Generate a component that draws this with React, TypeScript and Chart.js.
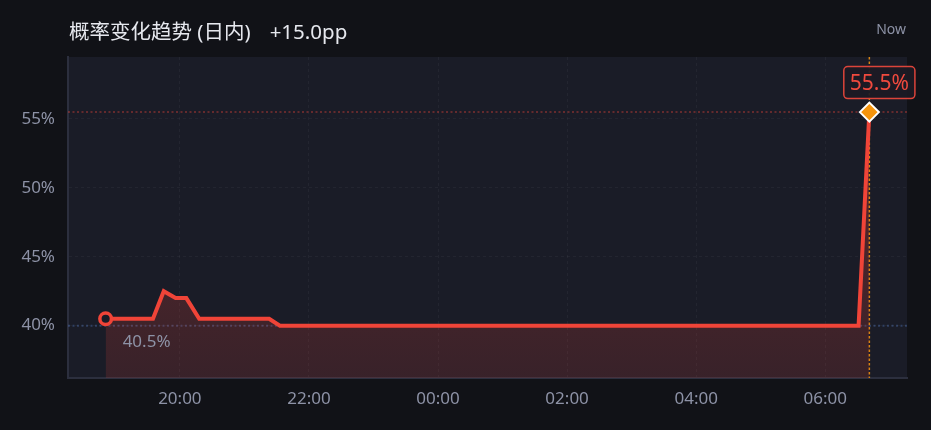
import React, { useEffect, useRef } from 'react';
import { Chart, registerables } from 'chart.js';

Chart.register(...registerables);

// ---- data ----
const TITLE = '概率变化趋势 (日内)';
const NOW_LABEL = 'Now';
const times = ['18:51', '19:35', '19:45', '19:56', '20:06', '20:18', '21:23', '21:33', '06:31', '06:41'];
const probs = [40.5, 40.5, 42.5, 42.0, 42.0, 40.5, 40.5, 40.0, 40.0, 55.5];
const xTickTimes = ['20:00', '22:00', '00:00', '02:00', '04:00', '06:00'];
const yTicks = [40, 45, 50, 55];
const xRange = ['18:16', '07:16'];
const yRange = [36.2, 59.5];
const baselineValue = 40;

// ---- helpers ----
function toHours(t: string): number {
  const [h, m] = t.split(':').map(Number);
  const v = h + m / 60;
  return v < 12 ? v + 24 : v;
}
function fmtHours(v: number): string {
  const base = Math.floor(v + 1e-6);
  const h = base % 24;
  const m = Math.round((v - base) * 60);
  return `${String(h).padStart(2, '0')}:${String(m).padStart(2, '0')}`;
}

const FONT = '"Noto Sans", "Noto Sans CJK SC", sans-serif';
const BG_PAGE = '#111217';
const BG_AREA = '#1a1c27';
const RED = '#f04438';
const TEXT_GREY = '#8d92a6';

const decorPlugin = {
  id: 'decor',
  beforeDraw(chart: any) {
    const { ctx, chartArea: a, width, height } = chart;
    ctx.save();
    ctx.fillStyle = BG_PAGE;
    ctx.fillRect(0, 0, width, height);
    ctx.fillStyle = BG_AREA;
    ctx.fillRect(a.left, a.top, a.right - a.left, a.bottom - a.top);
    ctx.restore();
  },
  beforeDatasetsDraw(chart: any) {
    const { ctx, chartArea: a, scales } = chart;
    const meta = chart.getDatasetMeta(0);
    const last = meta.data[meta.data.length - 1];
    ctx.save();
    // baseline reference (blue dotted)
    const yb = scales.y.getPixelForValue(baselineValue);
    ctx.strokeStyle = 'rgba(96,140,220,0.32)';
    ctx.lineWidth = 2;
    ctx.setLineDash([2, 2.5]);
    ctx.beginPath();
    ctx.moveTo(a.left, yb);
    ctx.lineTo(a.right, yb);
    ctx.stroke();
    // current value reference (red dotted)
    const yc = scales.y.getPixelForValue(probs[probs.length - 1]);
    ctx.strokeStyle = 'rgba(240,68,56,0.35)';
    ctx.beginPath();
    ctx.moveTo(a.left, yc);
    ctx.lineTo(a.right, yc);
    ctx.stroke();
    // now marker (orange dotted vertical)
    ctx.strokeStyle = '#d98412';
    ctx.lineWidth = 1.5;
    ctx.setLineDash([2.5, 2]);
    ctx.beginPath();
    ctx.moveTo(last.x, a.top);
    ctx.lineTo(last.x, a.bottom);
    ctx.stroke();
    ctx.restore();
  },
  afterDatasetsDraw(chart: any) {
    const { ctx } = chart;
    const meta = chart.getDatasetMeta(0);
    const first = meta.data[0];
    const last = meta.data[meta.data.length - 1];
    ctx.save();
    // start label
    ctx.font = `17px ${FONT}`;
    ctx.fillStyle = TEXT_GREY;
    ctx.textAlign = 'left';
    ctx.textBaseline = 'middle';
    ctx.fillText(`${probs[0].toFixed(1)}%`, first.x + 17, first.y + 23);
    // end label box
    const txt = `${probs[probs.length - 1].toFixed(1)}%`;
    ctx.font = `21px ${FONT}`;
    const tw = ctx.measureText(txt).width;
    const bw = tw + 12;
    const bh = 32;
    const cx = last.x + 10;
    const cy = last.y - 29.5;
    ctx.beginPath();
    if ((ctx as any).roundRect) {
      (ctx as any).roundRect(cx - bw / 2, cy - bh / 2, bw, bh, 4);
    } else {
      ctx.rect(cx - bw / 2, cy - bh / 2, bw, bh);
    }
    ctx.fillStyle = 'rgba(28,26,36,0.92)';
    ctx.fill();
    ctx.lineWidth = 1.5;
    ctx.strokeStyle = '#dc443a';
    ctx.stroke();
    ctx.fillStyle = '#f04a3e';
    ctx.textAlign = 'center';
    ctx.textBaseline = 'middle';
    ctx.fillText(txt, cx, cy + 1);
    ctx.restore();
  },
  afterDraw(chart: any) {
    const { ctx, chartArea: a, width } = chart;
    ctx.save();
    ctx.font = `20.5px ${FONT}`;
    ctx.fillStyle = '#e6e8ee';
    ctx.textAlign = 'left';
    ctx.textBaseline = 'middle';
    ctx.fillText(TITLE, a.left + 1, 33);
    const tw = ctx.measureText(TITLE).width;
    const delta = probs[probs.length - 1] - probs[0];
    ctx.fillText(`${delta >= 0 ? '+' : ''}${delta.toFixed(1)}pp`, a.left + 1 + tw + 19, 33);
    ctx.font = `14px ${FONT}`;
    ctx.fillStyle = TEXT_GREY;
    ctx.textAlign = 'right';
    ctx.fillText(NOW_LABEL, width - 25, 30);
    ctx.restore();
  },
};

export default function App() {
  const ref = useRef<HTMLCanvasElement | null>(null);

  useEffect(() => {
    document.body.style.margin = '0';
    document.body.style.background = BG_PAGE;
    const canvas = ref.current;
    if (!canvas) return;
    const n = probs.length;
    const chart = new Chart(canvas, {
      type: 'line',
      data: {
        datasets: [
          {
            data: times.map((t, i) => ({ x: toHours(t), y: probs[i] })),
            borderColor: RED,
            borderWidth: 4,
            tension: 0,
            fill: 'start',
            backgroundColor: (c: any) => {
              const a = c.chart.chartArea;
              if (!a) return 'rgba(240,68,56,0.16)';
              const g = c.chart.ctx.createLinearGradient(0, a.top, 0, a.bottom);
              g.addColorStop(0, 'rgba(240,68,56,0.35)');
              g.addColorStop(1, 'rgba(240,68,56,0.14)');
              return g;
            },
            pointStyle: probs.map((_, i) => (i === n - 1 ? 'rectRot' : 'circle')),
            pointRadius: probs.map((_, i) => (i === 0 ? 5.8 : i === n - 1 ? 9.5 : 0)),
            pointBorderWidth: probs.map((_, i) => (i === 0 ? 3.5 : 2)),
            pointBackgroundColor: probs.map((_, i) => (i === n - 1 ? '#f5940c' : BG_AREA)),
            pointBorderColor: probs.map((_, i) => (i === n - 1 ? '#ffffff' : RED)),
            clip: false as any,
          } as any,
        ],
      },
      options: {
        animation: false,
        responsive: false,
        devicePixelRatio: 1,
        layout: { padding: { left: 0, right: 24, top: 57, bottom: 0 } },
        plugins: {
          legend: { display: false },
          tooltip: { enabled: false },
          title: { display: false },
        },
        scales: {
          x: {
            type: 'linear',
            min: toHours(xRange[0]),
            max: toHours(xRange[1]),
            afterBuildTicks: (s: any) => {
              s.ticks = xTickTimes.map((t) => ({ value: toHours(t) }));
            },
            afterFit: (s: any) => {
              s.height = 52;
            },
            grid: { color: 'rgba(255,255,255,0.045)', lineWidth: 1, drawTicks: false },
            border: { display: true, color: '#2c2f3e', width: 2, dash: [3, 3] },
            ticks: {
              padding: 11,
              color: TEXT_GREY,
              font: { family: FONT, size: 17 },
              callback: (v: any) => fmtHours(Number(v)),
              maxRotation: 0,
              autoSkip: false,
            },
          },
          y: {
            type: 'linear',
            min: yRange[0],
            max: yRange[1],
            afterBuildTicks: (s: any) => {
              s.ticks = yTicks.map((v) => ({ value: v }));
            },
            afterFit: (s: any) => {
              s.width = 68;
            },
            grid: { color: 'rgba(255,255,255,0.045)', lineWidth: 1, drawTicks: false },
            border: { display: true, color: '#2c2f3e', width: 2, dash: [3, 3] },
            ticks: {
              padding: 13,
              color: TEXT_GREY,
              font: { family: FONT, size: 17 },
              callback: (v: any) => `${v}%`,
              autoSkip: false,
            },
          },
        },
      },
      plugins: [decorPlugin as any],
    });
    return () => chart.destroy();
  }, []);

  return (
    <div style={{ width: 931, height: 430, background: BG_PAGE }}>
      <canvas ref={ref} width={931} height={430} style={{ display: 'block', width: 931, height: 430 }} />
    </div>
  );
}
